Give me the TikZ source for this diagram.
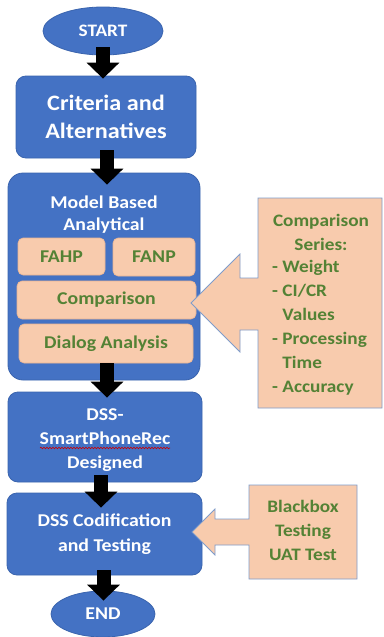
\documentclass[tikz,border=0pt]{standalone}
\usepackage{fontspec}
\setmainfont{Carlito}[FakeStretch=1.1]
\usetikzlibrary{arrows.meta,decorations.pathmorphing,shapes.geometric}
\definecolor{bblue}{HTML}{4472C4}
\definecolor{bborder}{HTML}{3A64AE}
\definecolor{peach}{HTML}{F8CBAD}
\definecolor{peachb}{HTML}{E9B493}
\definecolor{calb}{HTML}{7F9CCB}
\definecolor{gtext}{HTML}{548235}
\tikzset{
  bluebox/.style={draw=bborder, line width=0.8pt, fill=bblue, rounded corners=#1, text=white, font=\bfseries, align=center, inner sep=0pt},
  bluebox/.default=10pt,
  wtxt/.style={text=white, align=center, inner sep=0pt},
  oval/.style={draw=bborder, line width=0.8pt, fill=bblue, shape=ellipse, text=white, inner sep=0pt},
  subbox/.style={draw=peachb, line width=0.6pt, fill=peach, rounded corners=5pt, text=gtext, font=\bfseries\fontsize{18}{21}\selectfont, inner sep=0pt},
  callout/.style={draw=calb, line width=0.8pt, fill=peach},
  gtxt/.style={text=gtext, font=\bfseries\fontsize{17.5}{24}\selectfont, inner sep=0pt},
  blockarrow/.style={line width=14pt, draw=black, -{Triangle[width=32pt,length=16pt]}},
}
\begin{document}
\begin{tikzpicture}[x=1pt,y=-1pt]
\useasboundingbox (0,0) rectangle (383,637);
\fill[white] (0,0) rectangle (383,637);
% ellipses
\node[oval, minimum width=120pt, minimum height=48pt, font=\bfseries\fontsize{17.5}{18}\selectfont] (start) at (103,31) {START};
\node[oval, minimum width=104pt, minimum height=46pt, font=\bfseries\fontsize{18}{18}\selectfont] (end) at (103,614) {END};
% blue boxes
\node[bluebox, minimum width=180pt, minimum height=82pt, font=\bfseries\fontsize{22}{28}\selectfont] (crit) at (106,117) {Criteria and\\Alternatives};
\node[bluebox=15pt, minimum width=192pt, minimum height=207pt] (model) at (104,276.5) {};
\node[wtxt, font=\bfseries\fontsize{18}{22}\selectfont] (mtitle) at (104,215) {Model Based\\Analytical};
\node[subbox, minimum width=87pt, minimum height=37pt] (fahp) at (61.5,256.5) {FAHP};
\node[subbox, minimum width=82pt, minimum height=38pt] (fanp) at (154,257) {FANP};
\node[subbox, minimum width=179pt, minimum height=38pt] (comp) at (106.5,300) {Comparison};
\node[subbox, minimum width=174pt, minimum height=39pt] (dial) at (106,343.5) {Dialog Analysis};
\node[bluebox, minimum width=194pt, minimum height=90pt] (dss) at (105,437) {};
\node[wtxt, font=\bfseries\fontsize{18}{24}\selectfont] (dsst) at (105,440) {DSS-\\SmartPhoneRec\\Designed};
\node[bluebox, minimum width=195pt, minimum height=82pt, font=\bfseries\fontsize{18}{25}\selectfont] (cod) at (104.5,534) {DSS Codification\\and Testing};
% spell-check underline
\coordinate (wl) at (40,448);
\coordinate (wr) at (170,448);
\draw[red!80!black, line width=0.6pt, decorate, decoration={snake, amplitude=0.8pt, segment length=3pt}] (wl) -- (wr);
% block arrows
\draw[blockarrow, shorten <=-8pt, shorten >=-3pt] (start.south) -- (start.south |- crit.north);
\draw[blockarrow, shorten <=-8pt, shorten >=-12pt] ([xshift=1pt]crit.south) -- ([xshift=1pt]crit.south |- model.north);
\draw[blockarrow, shorten <=-17pt, shorten >=-6pt] ([xshift=3pt]model.south) -- ([xshift=3pt]model.south |- dss.north);
\draw[blockarrow, shorten <=-7pt, shorten >=-15pt] ([xshift=-4pt]dss.south) -- ([xshift=-4pt]dss.south |- cod.north);
\draw[blockarrow, shorten <=-5pt, shorten >=-10pt] ([xshift=-1pt]cod.south) -- ([xshift=-1pt]cod.south |- end.north);
% comparison callout
\draw[callout] (382,198) -- (258,198) -- (258,278) -- (240,278) -- (240,254) -- (191,303) -- (240,352) -- (240,330) -- (258,330) -- (258,408) -- (382,408) -- cycle;
\node[gtxt, align=center] (cs) at (321,232) {Comparison\\Series:};
\node[gtxt, align=left, anchor=north west] (cl) at (272,260) {- Weight\\- CI/CR\\\phantom{- }Values\\- Processing\\\phantom{- }Time\\- Accuracy};
% blackbox callout
\draw[callout] (357,485) -- (249,485) -- (249,519) -- (215,519) -- (215,509) -- (192,532) -- (215,555) -- (215,545) -- (249,545) -- (249,579) -- (357,579) -- cycle;
\node[gtxt, align=center] (bb) at (303,530) {Blackbox\\Testing\\UAT Test};
\end{tikzpicture}
\end{document}
